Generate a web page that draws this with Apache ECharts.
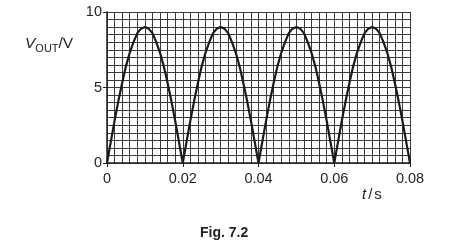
<!DOCTYPE html>
<html>
<head>
<meta charset="utf-8">
<script src="https://cdn.jsdelivr.net/npm/echarts@6/dist/echarts.min.js"></script>
<style>
html,body{margin:0;padding:0;background:#fff;}
#c{width:457px;height:248px;}
</style>
</head>
<body>
<div id="c"></div>
<script>
// time in seconds
var times = [0.000,0.001,0.002,0.003,0.004,0.005,0.006,0.007,0.008,0.009,
  0.010,0.011,0.012,0.013,0.014,0.015,0.016,0.017,0.018,0.019,
  0.020,0.021,0.022,0.023,0.024,0.025,0.026,0.027,0.028,0.029,
  0.030,0.031,0.032,0.033,0.034,0.035,0.036,0.037,0.038,0.039,
  0.040,0.041,0.042,0.043,0.044,0.045,0.046,0.047,0.048,0.049,
  0.050,0.051,0.052,0.053,0.054,0.055,0.056,0.057,0.058,0.059,
  0.060,0.061,0.062,0.063,0.064,0.065,0.066,0.067,0.068,0.069,
  0.070,0.071,0.072,0.073,0.074,0.075,0.076,0.077,0.078,0.079,0.080];
// V_OUT in volts
var vout = [0,1.4,2.8,4.1,5.3,6.4,7.3,8.0,8.6,8.9,
  9.0,8.9,8.6,8.0,7.3,6.4,5.3,4.1,2.8,1.4,
  0,1.4,2.8,4.1,5.3,6.4,7.3,8.0,8.6,8.9,
  9.0,8.9,8.6,8.0,7.3,6.4,5.3,4.1,2.8,1.4,
  0,1.4,2.8,4.1,5.3,6.4,7.3,8.0,8.6,8.9,
  9.0,8.9,8.6,8.0,7.3,6.4,5.3,4.1,2.8,1.4,
  0,1.4,2.8,4.1,5.3,6.4,7.3,8.0,8.6,8.9,
  9.0,8.9,8.6,8.0,7.3,6.4,5.3,4.1,2.8,1.4,0];
var xTicks = [0, 0.02, 0.04, 0.06, 0.08];
var yTicks = [0, 5, 10];

var pts = times.map(function(t, i){ return [t, vout[i]]; });
var font = '"Liberation Sans", Arial, sans-serif';
var ink = '#231f20';
var gridCol = '#3a3a3a';

var chart = echarts.init(document.getElementById('c'), null, {renderer:'canvas'});
chart.setOption({
  animation: false,
  backgroundColor: '#fff',
  grid: {left: 107, top: 12, right: 47, bottom: 85},
  xAxis: {
    type: 'value', min: xTicks[0], max: xTicks[xTicks.length-1], interval: 0.02,
    axisLine: {show: true, onZero: false, lineStyle: {color: ink, width: 1.5}},
    axisTick: {show: true, length: 4, lineStyle: {color: ink, width: 1}},
    axisLabel: {color: ink, fontFamily: font, fontSize: 14.5, margin: 8,
      formatter: function(v){ return String(+v.toFixed(2)); }},
    splitLine: {show: true, lineStyle: {color: gridCol, width: 1}},
    minorTick: {show: false, splitNumber: 10},
    minorSplitLine: {show: true, lineStyle: {color: gridCol, width: 1}}
  },
  yAxis: {
    type: 'value', min: yTicks[0], max: yTicks[yTicks.length-1], interval: 5,
    axisLine: {show: true, lineStyle: {color: ink, width: 1.5}},
    axisTick: {show: true, length: 4, lineStyle: {color: ink, width: 1}},
    axisLabel: {color: ink, fontFamily: font, fontSize: 14.5, margin: 5},
    splitLine: {show: true, lineStyle: {color: gridCol, width: 1}},
    minorTick: {show: false, splitNumber: 10},
    minorSplitLine: {show: true, lineStyle: {color: gridCol, width: 1}}
  },
  series: [{
    type: 'line', data: pts, showSymbol: false, smooth: false,
    lineStyle: {color: '#1a1a1a', width: 2.2}, z: 5
  }],
  graphic: [
    {type: 'text', left: 25, top: 36, style: {
      rich: {
        i: {fontFamily: font, fontStyle: 'italic', fontSize: 15.5, fill: ink},
        s: {fontFamily: font, fontSize: 11, fill: ink, padding: [9,0,0,0]},
        n: {fontFamily: font, fontSize: 15.5, fill: ink}
      },
      text: '{i|V}{s|OUT}{n|/V}'
    }},
    {type: 'text', left: 362, top: 187, style: {
      rich: {
        i: {fontFamily: font, fontStyle: 'italic', fontSize: 15, fill: ink},
        sl: {fontFamily: font, fontSize: 15, fill: ink, padding: [0,2,0,2]},
        n: {fontFamily: font, fontSize: 15, fill: ink}
      },
      text: '{i|t}{sl|/}{n|s}'
    }},
    {type: 'text', left: 200, top: 226, style: {
      text: 'Fig. 7.2', fontFamily: font, fontWeight: 'bold', fontSize: 14, fill: ink
    }}
  ]
});
</script>
</body>
</html>
